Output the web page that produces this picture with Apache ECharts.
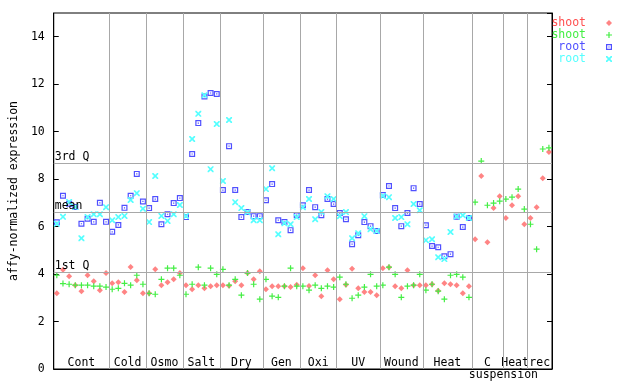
<!DOCTYPE html>
<html>
<head>
<meta charset="utf-8">
<script src="https://cdn.jsdelivr.net/npm/echarts@6/dist/echarts.min.js"></script>
<style>html,body{margin:0;padding:0;background:#fff}#c{width:640px;height:384px}</style>
</head>
<body>
<div id="c"></div>
<script>
// ---- data ----
const groupNames = ['Cont','Cold','Osmo','Salt','Dry','Gen','Oxi','UV','Wound','Heat','C suspension','Heat','rec'];
const groupSizes = [9,6,6,6,7,6,6,7,7,8,5,4,4];

const shootRed = [
  3.19,4.18,3.91,3.53,3.28,3.95,3.70,3.32,4.04,
  3.61,3.66,3.24,4.30,3.74,3.19,
  3.19,4.20,3.53,3.66,3.78,4.04,
  3.53,3.36,3.53,3.40,3.49,3.53,
  3.53,3.51,3.70,3.53,4.04,3.78,4.12,
  3.36,3.49,3.49,3.49,3.45,3.55,
  4.25,3.50,3.95,3.07,4.16,3.78,
  2.94,3.55,4.22,3.40,3.24,3.24,3.11,
  4.25,4.29,3.49,3.40,4.16,3.53,3.53,
  3.53,3.57,3.30,3.61,3.57,3.53,3.19,3.49,
  5.47,8.13,5.34,6.78,7.28,
  6.36,6.90,7.28,6.10,
  6.36,6.82,8.04,9.14
];
const shootGreen = [
  3.95,3.60,3.57,3.53,3.53,3.53,3.49,3.49,3.45,
  3.36,3.40,3.61,3.53,3.95,3.57,
  3.19,3.15,3.78,4.25,4.25,3.95,
  3.15,3.57,4.29,3.53,4.25,3.99,
  4.20,3.53,3.78,3.11,4.04,3.57,2.94,
  3.78,3.07,3.02,3.49,4.25,3.49,
  3.49,3.32,3.53,3.40,3.49,3.45,
  3.87,3.57,2.98,3.11,3.45,3.99,3.49,
  3.53,4.29,3.99,3.02,3.49,3.53,3.99,
  3.32,3.57,3.28,2.94,3.95,3.99,3.87,3.02,
  7.03,8.76,6.90,6.99,7.07,
  7.16,7.24,7.58,6.74,
  6.10,5.05,9.27,9.32
];
const rootBlue = [
  6.18,7.30,6.96,6.83,6.12,6.33,6.20,7.00,6.20,
  5.78,6.07,6.79,7.30,8.22,7.06,
  6.78,7.16,6.10,6.52,6.99,7.20,
  6.40,9.06,10.36,11.48,11.63,11.59,
  7.54,9.39,7.54,6.40,6.61,6.44,6.44,
  7.11,7.79,6.27,6.19,5.85,6.48,
  6.90,7.54,6.82,6.48,7.16,6.95,
  6.57,6.31,5.26,5.64,6.19,6.02,5.81,
  7.33,7.71,6.78,6.02,6.57,7.62,6.95,
  6.06,5.18,5.13,4.75,4.84,6.42,5.98,6.36,
  null,null,null,null,null,
  null,null,null,null,
  null,null,null,null
];
const rootCyan = [
  6.12,6.41,7.04,6.83,5.51,6.40,6.52,6.52,6.82,
  6.27,6.40,6.45,7.12,7.41,6.75,
  6.19,8.13,6.45,6.24,6.52,6.91,
  6.45,9.69,10.75,11.53,8.42,10.32,
  7.92,10.49,7.03,6.78,6.60,6.27,6.27,
  7.58,8.46,5.68,6.14,6.10,6.40,
  6.82,7.16,6.31,6.61,7.28,7.16,
  6.44,6.61,5.51,5.72,6.44,5.89,5.81,
  7.29,7.24,6.36,6.40,6.10,6.95,6.69,
  5.43,5.47,4.71,4.63,5.77,6.43,6.48,6.36,
  null,null,null,null,null,
  null,null,null,null,
  null,null,null,null
];
const refLineNames = ['3rd Q','mean','1st Q'];
const refLineValues = [8.67, 6.61, 4.08];

// ---- derived ----
const nSamples = groupSizes.reduce((a,b)=>a+b,0);
const boundaries = [], centers = [];
let acc = 0;
groupSizes.forEach((s,i)=>{ centers.push(acc + s/2); acc += s; if (i < groupSizes.length-1) boundaries.push(acc); });
function toPoints(arr){ const out=[]; arr.forEach((v,i)=>{ if(v!==null) out.push([i+0.5, v]); }); return out; }

const FONT = 'DejaVu Sans Mono';
const FS = 11.5;
const SYM_DIAMOND = 'path://M2.5,0 L5,2.5 L2.5,5 L0,2.5 Z';
const SYM_PLUS = 'path://M2,0 L3,0 L3,2 L5,2 L5,3 L3,3 L3,5 L2,5 L2,3 L0,3 L0,2 L2,2 Z';
const SYM_SQUARE = 'path://M0,0 L5,0 L5,5 L0,5 Z M1,1 L1,4 L4,4 L4,1 Z M2,2 L3,2 L3,3 L2,3 Z';
const SYM_X = 'path://M0,0 L1,0 L5,4 L5,5 L4,5 L0,1 Z M4,0 L5,0 L5,1 L1,5 L0,5 L0,4 Z';

const seriesDefs = [
  {name:'shoot_a', data:shootRed,   color:'#ff5050', symbol:SYM_DIAMOND, size:6, fill:'rgba(255,80,80,0.7)'},
  {name:'shoot_b', data:shootGreen, color:'#44ee44', symbol:SYM_PLUS, size:6, fill:'#44ee44'},
  {name:'root_a',  data:rootBlue,   color:'#5050ff', symbol:SYM_SQUARE, size:6, fill:'#5050ff'},
  {name:'root_b',  data:rootCyan,   color:'#55ffff', symbol:SYM_X, size:6, fill:'#55ffff'}
];

const markData = boundaries.map(b => ({xAxis:b, label:{show:false}}));
refLineValues.forEach((v,i)=> markData.push({yAxis:v, name:refLineNames[i], label:{show:true, formatter: refLineNames[i]}}));

const series = [{
  type:'scatter', data:[], silent:true,
  markLine:{
    silent:true, symbol:['none','none'], animation:false,
    lineStyle:{color:'#a8a8a8', width:1, type:'solid'},
    label:{position:'insideStartTop', color:'#000', fontFamily:FONT, fontSize:FS, distance:[1,0]},
    emphasis:{disabled:true},
    data: markData
  }
}].concat(seriesDefs.map(d => ({
  type:'scatter', name:d.name, data:toPoints(d.data),
  symbol:d.symbol, symbolSize:d.size, symbolKeepAspect:true,
  itemStyle:{color:d.fill, opacity:1},
  animation:false, silent:true
})));

const labelFont = {fontFamily:FONT, fontSize:FS, color:'#000', lineHeight:12};
const chart = echarts.init(document.getElementById('c'), null, {renderer:'canvas'});
chart.setOption({
  animation:false,
  backgroundColor:'#fff',
  textStyle:{fontFamily:FONT, fontSize:FS, color:'#000'},
  grid:{left:44, right:88, top:13, bottom:15, show:true, borderColor:'#000', borderWidth:1, backgroundColor:'transparent'},
  legend:{
    orient:'vertical', right:28, top:17, align:'right', padding:0,
    itemWidth:36, itemHeight:6, itemGap:0, symbolKeepAspect:true, selectedMode:false,
    textStyle:{fontFamily:FONT, fontSize:FS, lineHeight:11},
    formatter: n => n.split('_')[0],
    data: seriesDefs.map(d => ({name:d.name, textStyle:{color:d.color}}))
  },
  xAxis:[{
    type:'value', min:0, max:nSamples, position:'bottom',
    axisLine:{show:true, lineStyle:{color:'#000', width:1}},
    axisTick:{show:false}, splitLine:{show:false},
    axisLabel:Object.assign({
      show:true, customValues:centers, margin:-12, showMinLabel:true, showMaxLabel:true, hideOverlap:false,
      rich:{a:Object.assign({}, labelFont), b:Object.assign({padding:[0,0,0,32]}, labelFont)},
      formatter: v => {
        const i = centers.findIndex(c => Math.abs(c - v) < 1e-6);
        if (i < 0) return '';
        const parts = groupNames[i].split(' ');
        if (parts.length === 1) return parts[0];
        return '{a|' + parts[0] + '}\n{b|' + parts.slice(1).join(' ') + '}';
      }
    }, labelFont)
  }],
  yAxis:[{
    type:'value', min:0, max:15, interval:2, position:'left',
    name:'affy-normalized expression', nameLocation:'middle', nameGap:31, nameRotate:90,
    nameTextStyle:{fontFamily:FONT, fontSize:FS, color:'#000'},
    axisLine:{show:true, lineStyle:{color:'#000'}},
    axisTick:{show:true, inside:true, length:5, lineStyle:{color:'#000'}},
    axisLabel:{color:'#000', fontFamily:FONT, fontSize:FS, margin:9, showMaxLabel:false},
    splitLine:{show:false}
  },{
    type:'value', min:0, max:15, interval:2, position:'right',
    axisLine:{show:true, lineStyle:{color:'#000'}},
    axisTick:{show:true, inside:true, length:5, lineStyle:{color:'#000'}},
    axisLabel:{show:false}, splitLine:{show:false}
  }],
  series: series
});
</script>
</body>
</html>
